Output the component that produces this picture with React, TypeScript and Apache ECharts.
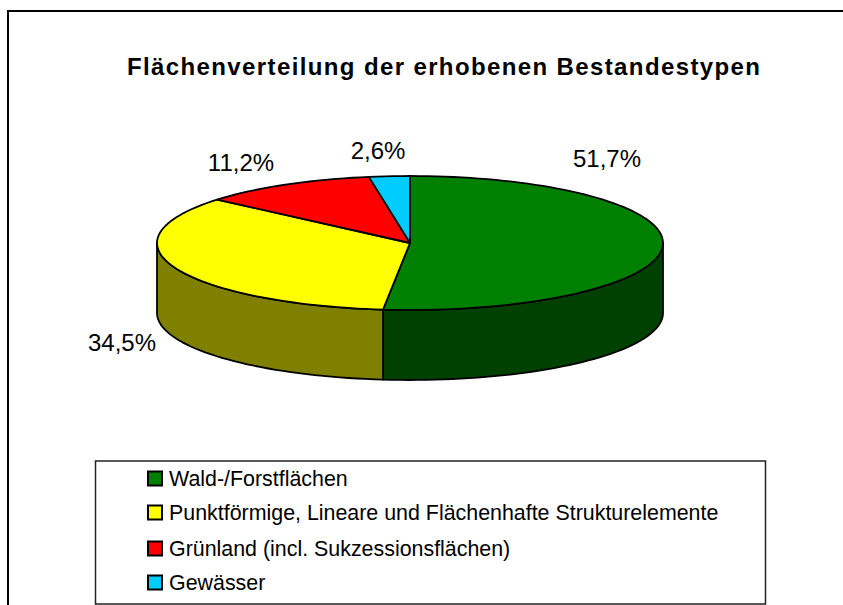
import React, { useEffect, useRef } from "react";
import * as echarts from "echarts";

const categories = [
  "Wald-/Forstflächen",
  "Punktförmige, Lineare und Flächenhafte Strukturelemente",
  "Grünland (incl. Sukzessionsflächen)",
  "Gewässer",
];
const values = [51.7, 34.5, 11.2, 2.6];
const percentLabels = ["51,7%", "34,5%", "11,2%", "2,6%"];
const topColors = ["#008000", "#ffff00", "#ff0000", "#00ccff"];
const wallColors = ["#004000", "#808000", "#800000", "#006680"];
const titleText = "Flächenverteilung der erhobenen Bestandestypen";

const labelPositions: [number, number][] = [
  [607, 158],
  [122, 342],
  [241, 162],
  [378, 150],
];
const legendCenters = [480, 514, 550, 584];

const CX = 410;
const CY = 243;
const RX = 253;
const RY = 67;
const DEPTH = 70;
const FONT = "Liberation Sans";

const pt = (deg: number, dy = 0): [number, number] => {
  const a = (deg * Math.PI) / 180;
  return [CX + RX * Math.sin(a), CY - RY * Math.cos(a) + dy];
};

const arc = (a0: number, a1: number, dy = 0) => {
  const out: [number, number][] = [];
  const n = Math.max(2, Math.ceil(Math.abs(a1 - a0) / 2));
  for (let i = 0; i <= n; i++) out.push(pt(a0 + ((a1 - a0) * i) / n, dy));
  return out;
};

const total = values.reduce((s, v) => s + v, 0);
const startAngle = (i: number) =>
  (values.slice(0, i).reduce((s, v) => s + v, 0) / total) * 360;

const makeSeries = (i: number) => ({
  type: "custom",
  name: categories[i],
  coordinateSystem: "none",
  silent: true,
  itemStyle: { color: topColors[i] },
  data: [[values[i]]],
  z: 2,
  renderItem: (_p: any, api: any) => {
    const a0 = startAngle(i);
    const a1 = a0 + (api.value(0) / total) * 360;
    const children: any[] = [];
    const s0 = Math.max(a0, 90);
    const s1 = Math.min(a1, 270);
    const lineStyle = { stroke: "#000", lineWidth: 1.8, lineJoin: "round" };
    if (s1 > s0) {
      const top = arc(s0, s1);
      const bottom = arc(s1, s0, DEPTH);
      children.push({
        type: "polygon",
        shape: { points: [...top, ...bottom] },
        style: { fill: wallColors[i], ...lineStyle },
      });
    }
    children.push({
      type: "polygon",
      shape: { points: [[CX, CY], ...arc(a0, a1)] },
      style: { fill: topColors[i], ...lineStyle },
    });
    const [lx, ly] = labelPositions[i];
    children.push({
      type: "text",
      x: lx,
      y: ly,
      style: {
        text: percentLabels[i],
        fill: "#000",
        font: `24px "${FONT}"`,
        align: "center",
        verticalAlign: "middle",
      },
    });
    return { type: "group", children };
  },
});

export default function App() {
  const ref = useRef<HTMLDivElement>(null);
  useEffect(() => {
    const chart = echarts.init(ref.current!, null, { renderer: "svg" });
    chart.setOption({
      animation: false,
      backgroundColor: "#fff",
      title: {
        text: titleText,
        left: 127,
        top: 54,
        padding: 0,
        textStyle: { fontFamily: FONT, fontSize: 24, fontWeight: "bold", color: "#000" },
      },
      legend: categories.map((name, i) => ({
        orient: "vertical",
        left: 147,
        top: legendCenters[i] - 12,
        itemWidth: 14,
        itemHeight: 14,
        padding: 0,
        selectedMode: false,
        textStyle: { fontFamily: FONT, fontSize: 21.4, color: "#000", padding: [0, 0, 0, 2] },
        data: [
          {
            name,
            icon: "rect",
            itemStyle: { color: topColors[i], borderColor: "#000", borderWidth: 2 },
          },
        ],
      })),
      graphic: [
        {
          type: "polyline",
          z: 0,
          shape: { points: [[8, 605], [8, 11], [843, 11]] },
          style: { fill: "none", stroke: "#000", lineWidth: 2 },
        },
        {
          type: "rect",
          z: 0,
          shape: { x: 95.5, y: 461, width: 670, height: 143 },
          style: { fill: "#fff", stroke: "#222", lineWidth: 1.5 },
        },
      ],
      series: categories.map((_, i) => makeSeries(i)),
    });
    return () => chart.dispose();
  }, []);
  return (
    <>
      <style>{`svg text[style*="bold"], svg text[font-weight="bold"] { letter-spacing: 1.38px; }`}</style>
      <div ref={ref} style={{ position: "fixed", left: 0, top: 0, width: 843, height: 605 }} />
    </>
  );
}
